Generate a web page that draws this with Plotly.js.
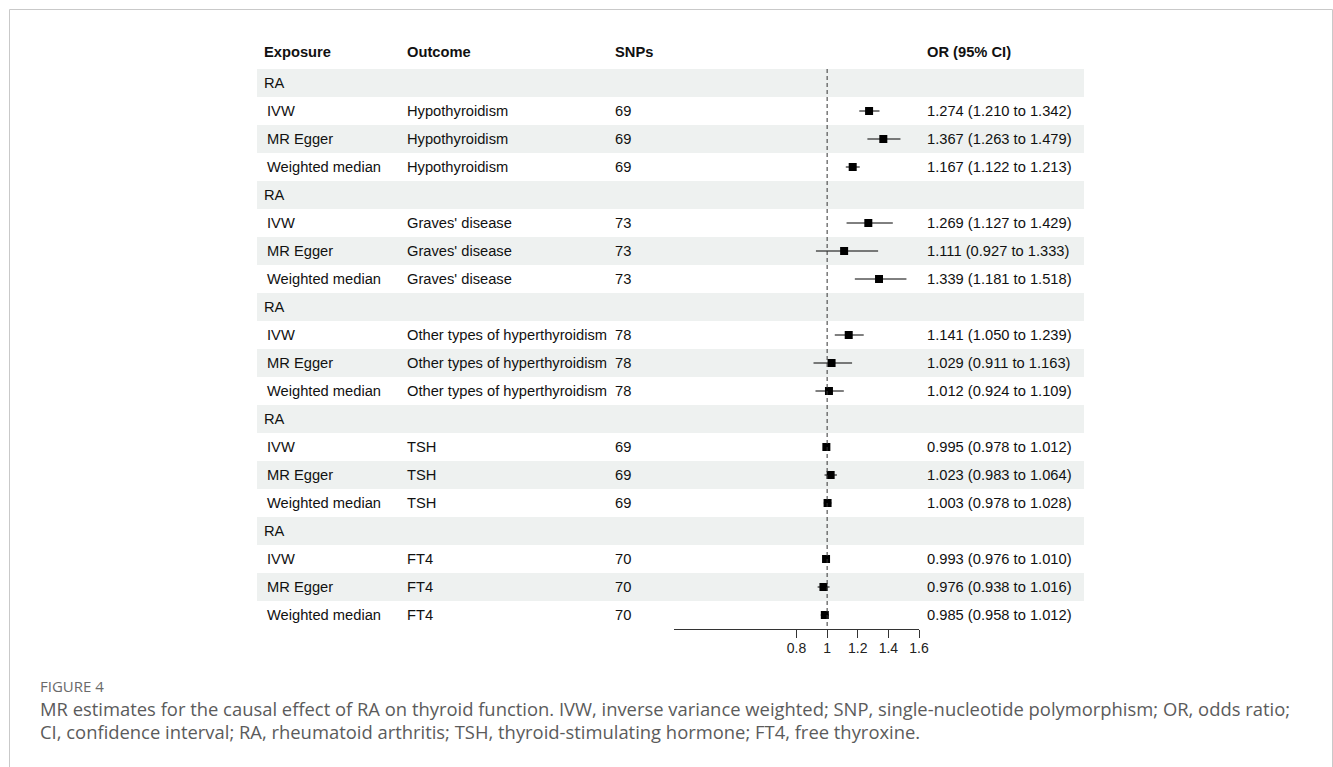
<!DOCTYPE html>
<html>
<head>
<meta charset="utf-8">
<script src="https://cdn.plot.ly/plotly-3.0.1.min.js"></script>
<style>
  html, body { margin: 0; padding: 0; background: #ffffff; }
  #chart { width: 1333px; height: 767px; }
</style>
</head>
<body>
<div id="chart"></div>
<script>
// MR estimates: RA exposure on five thyroid outcomes, three methods each
const exposure = "RA";
const methods = ["IVW", "MR Egger", "Weighted median"];
const outcomes = ["Hypothyroidism", "Graves' disease", "Other types of hyperthyroidism", "TSH", "FT4"];
const snps = [69, 69, 69, 73, 73, 73, 78, 78, 78, 69, 69, 69, 70, 70, 70];
const orEst = [1.274, 1.367, 1.167, 1.269, 1.111, 1.339, 1.141, 1.029, 1.012, 0.995, 1.023, 1.003, 0.993, 0.976, 0.985];
const ciLow = [1.210, 1.263, 1.122, 1.127, 0.927, 1.181, 1.050, 0.911, 0.924, 0.978, 0.983, 0.978, 0.976, 0.938, 0.958];
const ciHigh = [1.342, 1.479, 1.213, 1.429, 1.333, 1.518, 1.239, 1.163, 1.109, 1.012, 1.064, 1.028, 1.010, 1.016, 1.012];
const headers = ["Exposure", "Outcome", "SNPs", "OR (95% CI)"];
const xTicks = [0.8, 1, 1.2, 1.4, 1.6];

const W = 1333, H = 767;
const px = v => v / W;          // horizontal pixel -> paper
const py = v => 1 - v / H;      // vertical pixel -> paper

// row layout: each outcome block = one exposure row + three method rows
const ROW0 = 83, ROWH = 28, AXIS_Y = 629;
const nRows = outcomes.length * 4;
const rowOf = k => Math.floor(k / 3) * 4 + 1 + (k % 3);
const headerRow = (52 - ROW0) / ROWH;

// annotation boxes carry ~2px of padding, so the anchors sit 2px left of the glyphs
const colX = { exposure: 262, method: 265, outcome: 405, snps: 613, or: 925 };
const tableFont = { family: "Liberation Sans, Arial, sans-serif", size: 14.7, color: "#111111" };

const annotations = [];
const cell = (x, row, text, font) => annotations.push({
  xref: "paper", yref: "y", x: px(x), y: row, text: text,
  xanchor: "left", yanchor: "middle", showarrow: false, font: font
});

// header
cell(colX.exposure, headerRow, "<b>" + headers[0] + "</b>", tableFont);
cell(colX.outcome, headerRow, "<b>" + headers[1] + "</b>", tableFont);
cell(colX.snps, headerRow, "<b>" + headers[2] + "</b>", tableFont);
cell(colX.or, headerRow, "<b>" + headers[3] + "</b>", tableFont);

// body
for (let b = 0; b < outcomes.length; b++) cell(colX.exposure, b * 4, exposure, tableFont);
const yPos = [];
for (let k = 0; k < orEst.length; k++) {
  const r = rowOf(k);
  yPos.push(r);
  cell(colX.method, r, methods[k % 3], tableFont);
  cell(colX.outcome, r, outcomes[Math.floor(k / 3)], tableFont);
  cell(colX.snps, r, String(snps[k]), tableFont);
  cell(colX.or, r, orEst[k].toFixed(3) + " (" + ciLow[k].toFixed(3) + " to " + ciHigh[k].toFixed(3) + ")", tableFont);
}

// caption
const capFont = { family: "'Open Sans', Lato, sans-serif", size: 18.4, color: "#5b5b5b" };
const capLine = (y, text, font) => annotations.push({
  xref: "paper", yref: "paper", x: px(38), y: py(y), text: text,
  xanchor: "left", yanchor: "middle", showarrow: false, font: font
});
capLine(686, "FIGURE 4", { family: "'Open Sans', Lato, sans-serif", size: 15, color: "#6a6a6a" });
capLine(708, "MR estimates for the causal effect of RA on thyroid function. IVW, inverse variance weighted; SNP, single-nucleotide polymorphism; OR, odds ratio;", capFont);
capLine(731, "CI, confidence interval; RA, rheumatoid arthritis; TSH, thyroid-stimulating hormone; FT4, free thyroxine.", capFont);

// striped row bands, reference line at OR = 1, outer frame
const shapes = [];
for (let r = 0; r < nRows; r += 2) {
  shapes.push({
    type: "rect", layer: "below", xref: "paper", yref: "y",
    x0: px(257), x1: px(1084), y0: r - 0.5, y1: r + 0.5,
    fillcolor: "#eef1f0", line: { width: 0 }
  });
}
shapes.push({
  type: "line", xref: "x", yref: "y", x0: 1, x1: 1, y0: -0.5, y1: nRows - 0.5,
  line: { color: "#333333", width: 1, dash: "4px,3px" }
});
shapes.push({
  type: "rect", xref: "paper", yref: "paper",
  x0: px(9.5), x1: px(1332.5), y0: py(9.5), y1: py(790),
  line: { color: "#c9c9c9", width: 1 }, fillcolor: "rgba(0,0,0,0)"
});

const trace = {
  type: "scatter", mode: "markers",
  x: orEst, y: yPos,
  marker: { symbol: "square", size: 8, color: "#000000" },
  error_x: {
    type: "data", symmetric: false,
    array: orEst.map((v, i) => ciHigh[i] - v),
    arrayminus: orEst.map((v, i) => v - ciLow[i]),
    color: "#000000", thickness: 1, width: 0
  },
  hoverinfo: "skip", showlegend: false, cliponaxis: false
};

const layout = {
  width: W, height: H,
  margin: { l: 0, r: 0, t: 0, b: 0 },
  paper_bgcolor: "#ffffff", plot_bgcolor: "rgba(0,0,0,0)",
  showlegend: false,
  xaxis: {
    domain: [px(674), px(919)], range: [0, 1.6],
    tickvals: xTicks, ticktext: xTicks.map(String),
    ticks: "outside", ticklen: 8, tickwidth: 1, tickcolor: "#333333",
    showline: true, linecolor: "#333333", linewidth: 1,
    showgrid: false, zeroline: false, fixedrange: true,
    tickfont: { family: "Liberation Sans, Arial, sans-serif", size: 14, color: "#222222" },
    ticklabelstandoff: -2,
    automargin: false
  },
  yaxis: {
    domain: [py(AXIS_Y), 1], range: [(AXIS_Y - ROW0) / ROWH, -ROW0 / ROWH],
    visible: false, showgrid: false, zeroline: false, fixedrange: true
  },
  shapes: shapes,
  annotations: annotations
};

Plotly.newPlot("chart", [trace], layout, { displayModeBar: false, staticPlot: true });
</script>
</body>
</html>
